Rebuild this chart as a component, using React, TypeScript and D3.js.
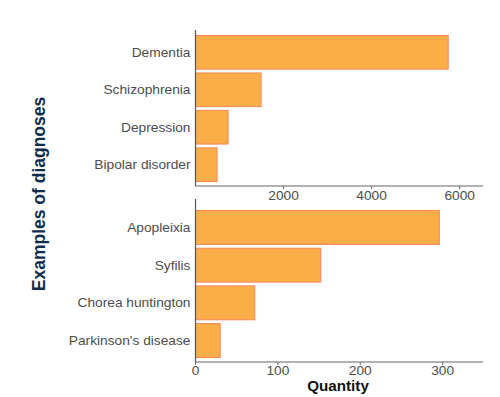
import React, { useEffect, useRef } from "react";
import * as d3 from "d3";

// top panel: common diagnoses
const topDiagnoses = ["Dementia", "Schizophrenia", "Depression", "Bipolar disorder"];
const topCounts = [5740, 1490, 740, 490];
const topTicks = [2000, 4000, 6000];

// bottom panel: rare diagnoses
const bottomDiagnoses = ["Apopleixia", "Syfilis", "Chorea huntington", "Parkinson's disease"];
const bottomCounts = [296, 152, 72, 30];
const bottomTicks = [0, 100, 200, 300];

const FILL = "#fbad47";
const STROKE = "#f7875a";
const FONT = "'Liberation Sans', Arial, sans-serif";
// the reference text is a bit wider than plain Arial
const STRETCH = "scale(1.1,1)";

const App = () => {
  const ref = useRef<SVGSVGElement>(null);

  useEffect(() => {
    const svg = d3.select(ref.current);
    svg.selectAll("*").remove();

    const left = 195.5;
    const right = 483;

    const drawPanel = (
      names: string[],
      values: number[],
      ticks: number[],
      xMax: number,
      lineTop: number,
      bandTop: number,
      bottom: number,
      labelY: number
    ) => {
      const x = d3.scaleLinear().domain([0, xMax]).range([left, right]);
      const y = d3.scaleBand<string>()
        .domain(names)
        .range([bandTop, bottom])
        .paddingInner(0.1)
        .paddingOuter(0.12);

      const g = svg.append("g");

      g.selectAll("rect")
        .data(names)
        .join("rect")
        .attr("x", x(0))
        .attr("y", d => y(d)!)
        .attr("width", (d, i) => x(values[i]) - x(0))
        .attr("height", y.bandwidth())
        .attr("fill", FILL)
        .attr("stroke", STROKE)
        .attr("stroke-width", 1);

      // y labels, no tick marks
      g.selectAll("text.ylab")
        .data(names)
        .join("text")
        .attr("class", "ylab")
        .attr("transform", d => `translate(${left - 5},${y(d)! + y.bandwidth() / 2}) ${STRETCH}`)
        .attr("dy", "0.35em")
        .attr("text-anchor", "end")
        .attr("font-family", FONT)
        .attr("font-size", 12.5)
        .attr("fill", "#4d4d4d")
        .text(d => d);

      // axis lines
      g.append("line")
        .attr("x1", left).attr("x2", left)
        .attr("y1", lineTop).attr("y2", bottom)
        .attr("stroke", "#555").attr("stroke-width", 1.2);
      g.append("line")
        .attr("x1", left).attr("x2", right)
        .attr("y1", bottom).attr("y2", bottom)
        .attr("stroke", "#666").attr("stroke-width", 1.2);

      g.selectAll("line.tick")
        .data(ticks)
        .join("line")
        .attr("class", "tick")
        .attr("x1", d => x(d)).attr("x2", d => x(d))
        .attr("y1", bottom).attr("y2", bottom + 3)
        .attr("stroke", "#666");

      g.selectAll("text.xlab")
        .data(ticks)
        .join("text")
        .attr("class", "xlab")
        .attr("transform", d => `translate(${x(d)},${labelY}) ${STRETCH}`)
        .attr("text-anchor", "middle")
        .attr("font-family", FONT)
        .attr("font-size", 12.5)
        .attr("fill", "#4d4d4d")
        .text(d => d3.format("d")(d));
    };

    drawPanel(topDiagnoses, topCounts, topTicks, 6530, 30, 31, 186, 200);
    drawPanel(bottomDiagnoses, bottomCounts, bottomTicks, 349, 199, 206, 362, 374.5);

    svg.append("text")
      .attr("transform", "translate(44.5,194) rotate(-90)")
      .attr("text-anchor", "middle")
      .attr("font-family", FONT)
      .attr("font-weight", "bold")
      .attr("font-size", 17.5)
      .attr("fill", "#0e2d4c")
      .text("Examples of diagnoses");

    svg.append("text")
      .attr("transform", "translate(338,391) scale(1.05,1)")
      .attr("text-anchor", "middle")
      .attr("font-family", FONT)
      .attr("font-weight", "bold")
      .attr("font-size", 14.5)
      .attr("fill", "#111")
      .text("Quantity");
  }, []);

  return (
    <svg
      ref={ref}
      width={500}
      height={397}
      style={{ position: "absolute", left: 0, top: 0, background: "#fff" }}
    ></svg>
  );
};

export default App;
